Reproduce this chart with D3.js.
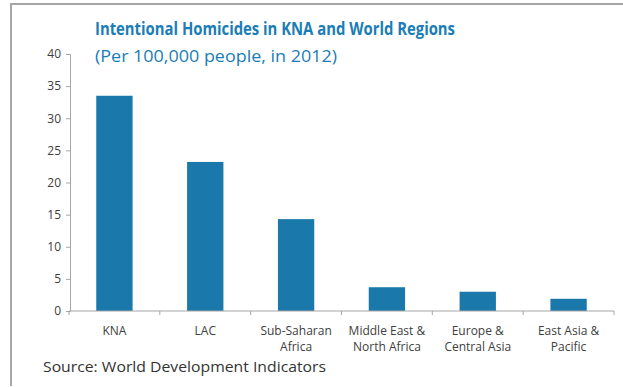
<!DOCTYPE html>
<html><head><meta charset="utf-8">
<script src="https://cdn.jsdelivr.net/npm/d3@7"></script>
<style>body{margin:0;background:#fff}svg{display:block}</style>
</head><body>
<svg id="c" width="623" height="387"></svg>
<script>
const categories = [["KNA"],["LAC"],["Sub-Saharan","Africa"],["Middle East &","North Africa"],["Europe &","Central Asia"],["East Asia &","Pacific"]];
const values = [33.5, 23.2, 14.3, 3.7, 3.0, 1.9];
const yTicks = [0,5,10,15,20,25,30,35,40];
const title = "Intentional Homicides in KNA and World Regions";
const subtitle = "(Per 100,000 people, in 2012)";
const source = "Source: World Development Indicators";

const svg = d3.select("#c");
const font = "'Open Sans', 'Noto Sans', sans-serif";

// frame
svg.append("path").attr("d","M11,386 V4 H623").attr("fill","none").attr("stroke","#a6a6a6").attr("stroke-width",2);

const x = d3.scaleBand().domain(categories.map(c=>c.join(" "))).range([69,614]).paddingInner(0.6).paddingOuter(0.3);
const y = d3.scaleLinear().domain([0,40]).range([311,54]);

// bars
svg.append("g").selectAll("rect").data(values).join("rect")
  .attr("x",(d,i)=>x(categories[i].join(" ")))
  .attr("width",x.bandwidth())
  .attr("y",d=>y(d)).attr("height",d=>y(0)-y(d))
  .attr("fill","#1a79aa");

// y axis
const ya = svg.append("g").attr("transform","translate(70,0)")
  .call(d3.axisLeft(y).tickValues(yTicks).tickSize(4).tickPadding(5));
ya.selectAll("path,line").attr("stroke","#a6a6a6");
ya.selectAll("text").attr("font-family",font).attr("font-size",12).attr("fill","#404040");

// x axis
const xa = svg.append("g").attr("transform","translate(0,311)");
xa.append("line").attr("x1",69).attr("x2",614).attr("stroke","#a6a6a6");
d3.range(7).forEach(i=>{
  const px = 69 + i*(614-69)/6;
  xa.append("line").attr("x1",px).attr("x2",px).attr("y1",0).attr("y2",4).attr("stroke","#a6a6a6");
});
categories.forEach((c,i)=>{
  const cx = x(c.join(" ")) + x.bandwidth()/2;
  const t = xa.append("text").attr("x",cx).attr("y",24).attr("text-anchor","middle")
    .attr("font-family",font).attr("font-size",12).attr("fill","#404040");
  c.forEach((line,j)=>t.append("tspan").attr("x",cx).attr("dy",j?16:0).text(line));
});

// titles
svg.append("text").attr("x",95).attr("y",35).attr("font-family",font).attr("font-size",17).attr("font-weight","bold").attr("fill","#1b7db5").attr("textLength",360).attr("lengthAdjust","spacingAndGlyphs").text(title);
svg.append("text").attr("x",95).attr("y",62).attr("font-family",font).attr("font-size",17).attr("fill","#1b7db5").attr("textLength",242).attr("lengthAdjust","spacingAndGlyphs").text(subtitle);
svg.append("text").attr("x",43).attr("y",372).attr("font-family",font).attr("font-size",15).attr("fill","#333").attr("textLength",283).attr("lengthAdjust","spacingAndGlyphs").text(source);
</script>
</body></html>
